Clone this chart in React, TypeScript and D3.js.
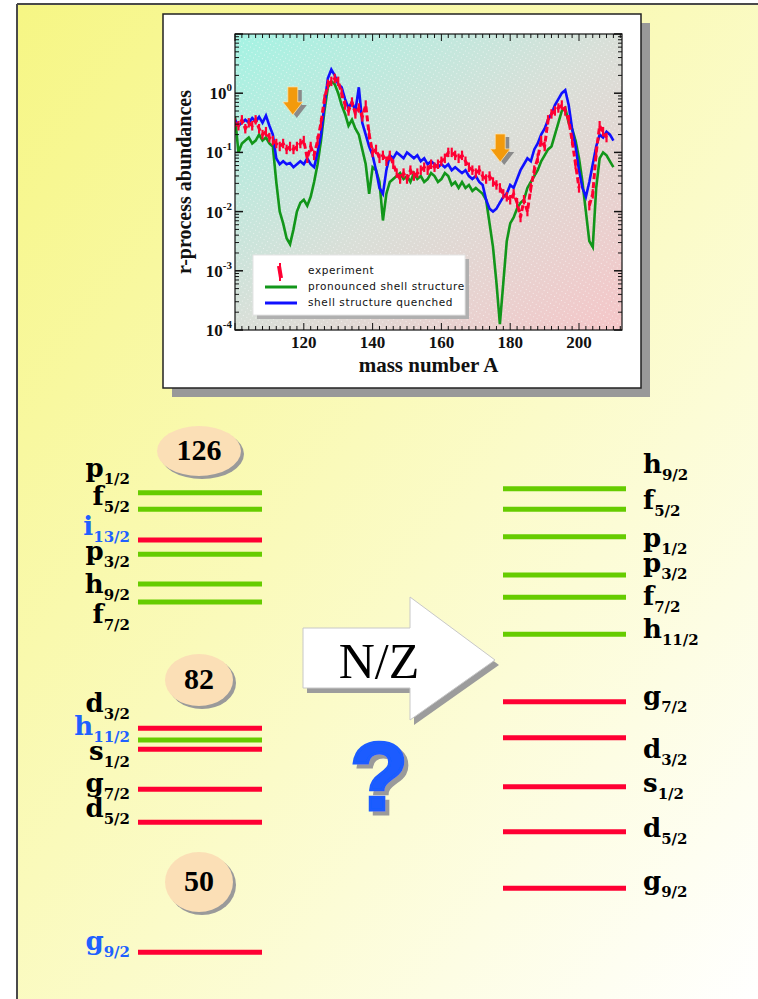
import React from 'react';
import * as d3 from 'd3';

// r-process abundances, log10 values, one per mass number starting at A = 100
const startA = 100;

const quenchedLog = [
  -0.45, -0.55, -0.5, -0.45, -0.5, -0.42, -0.48, -0.4, -0.5, -0.38,
  -0.55, -0.7, -1.1, -1.2, -1.15, -1.2, -1.18, -1.25, -1.2, -1.15,
  -1.2, -1.1, -1.2, -1.25, -1.0, -0.7, -0.2, 0.25, 0.4, 0.3,
  0.15, 0.1, -0.1, -0.25, -0.15, -0.3, 0.1, -0.5, -0.7, -0.9,
  -1.05, -1.3, -1.6, -1.7, -1.3, -1.05, -1.1, -1.0, -1.05, -1.1,
  -1.0, -1.05, -1.1, -1.05, -1.15, -1.1, -1.2, -1.15, -1.2, -1.25,
  -1.2, -1.25, -1.2, -1.3, -1.25, -1.3, -1.35, -1.3, -1.4, -1.45,
  -1.4, -1.5, -1.55, -1.8, -1.95, -2.0, -1.95, -1.85, -1.75, -1.7,
  -1.55, -1.6, -1.45, -1.3, -1.2, -1.1, -1.15, -0.95, -0.85, -0.7,
  -0.6, -0.45, -0.35, -0.2, -0.1, 0.0, 0.05, -0.2, -0.6, -0.9,
  -1.3, -1.6, -1.75, -1.5, -1.2, -0.9, -0.7, -0.75, -0.65, -0.7, -0.8,
];

const pronouncedLog = [
  -0.4, -1.0, -0.85, -0.8, -0.75, -0.85, -0.8, -0.7, -0.8, -0.75,
  -0.85, -0.9, -1.5, -2.0, -2.2, -2.45, -2.55, -2.3, -2.0, -1.85,
  -1.8, -1.9, -1.75, -1.5, -1.2, -0.8, -0.3, 0.1, 0.2, 0.15,
  0.0, -0.2, -0.35, -0.55, -0.45, -0.6, -0.7, -0.95, -1.2, -1.7,
  -1.25, -1.3, -1.5, -2.15, -1.7, -1.5, -1.45, -1.4, -1.35, -1.45,
  -1.4, -1.5, -1.35, -1.45, -1.4, -1.5, -1.45, -1.35, -1.4, -1.5,
  -1.45, -1.35, -1.4, -1.55, -1.5, -1.6, -1.5, -1.6, -1.55, -1.65,
  -1.6, -1.65, -1.7, -1.8, -2.2, -2.6, -3.2, -3.9, -3.2, -2.5,
  -2.2, -2.1, -1.95, -1.85, -1.8, -1.6, -1.5, -1.4, -1.3, -1.15,
  -1.05, -0.95, -0.9, -0.7, -0.5, -0.3, -0.25, -0.5, -0.6, -0.8,
  -1.1, -1.5, -2.0, -2.5, -2.6, -1.6, -1.1, -1.0, -1.05, -1.15, -1.25,
];

const experimentLog: (number | null)[] = [
  -0.5, -0.55, -0.45, -0.6, -0.5, -0.55, -0.45, -0.6, -0.7, -0.65,
  -0.75, -0.8, -0.85, -0.9, -0.85, -0.95, -0.9, -0.95, -0.9, -0.85,
  -0.8, -1.1, -0.9, -1.05, -0.8, -0.5, -0.1, 0.15, 0.2, 0.25,
  0.2, 0.0, -0.2, -0.3, -0.15, -0.35, -0.25, -0.4, -0.2, -0.7,
  -1.0, -0.95, -1.1, -1.05, -1.15, -1.05, -1.2, -1.35, -1.45, -1.35,
  -1.45, -1.3, -1.4, -1.35, -1.3, -1.25, -1.3, -1.2, -1.25, -1.2,
  -1.15, -1.1, -1.0, -1.0, -1.05, -1.1, -1.05, -1.15, -1.25, -1.3,
  -1.35, -1.3, -1.4, -1.45, -1.4, -1.5, -1.55, -1.6, -1.7, -1.75,
  -1.8, -1.7, -1.85, -2.1, -1.8, -2.0, -1.6, -1.3, -1.1, -0.8,
  -0.9, -0.45, -0.35, -0.3, -0.25, -0.2, -0.3, -0.45, -0.8, -1.2,
  -1.6, null, null, -1.9, -1.7, -1.0, -0.55, -0.65, -0.75,
];

const xTicks = [120, 140, 160, 180, 200];
const decades = [-4, -3, -2, -1, 0];

// orange arrows marking the shell-closure troughs: [A, abundance at arrow tip]
const troughMarks = [
  [116.8, 0.43],
  [177.1, 0.069],
];

const legendItems = ['experiment', 'pronounced shell structure', 'shell structure quenched'];

// single-particle levels, energies in arbitrary units
type Level = { l: string; j: string; e: number; parity: '+' | '-'; intruder?: boolean };

const leftLevels: Level[] = [
  { l: 'p', j: '1/2', e: 46.73, parity: '-' },
  { l: 'f', j: '5/2', e: 45.07, parity: '-' },
  { l: 'i', j: '13/2', e: 42.0, parity: '+', intruder: true },
  { l: 'p', j: '3/2', e: 40.57, parity: '-' },
  { l: 'h', j: '9/2', e: 37.6, parity: '-' },
  { l: 'f', j: '7/2', e: 35.8, parity: '-' },
  { l: 'd', j: '3/2', e: 23.17, parity: '+' },
  { l: 'h', j: '11/2', e: 22.0, parity: '-', intruder: true },
  { l: 's', j: '1/2', e: 21.07, parity: '+' },
  { l: 'g', j: '7/2', e: 17.07, parity: '+' },
  { l: 'd', j: '5/2', e: 13.77, parity: '+' },
  { l: 'g', j: '9/2', e: 0.77, parity: '+', intruder: true },
];

const rightLevels: Level[] = [
  { l: 'h', j: '9/2', e: 47.13, parity: '-' },
  { l: 'f', j: '5/2', e: 45.07, parity: '-' },
  { l: 'p', j: '1/2', e: 42.33, parity: '-' },
  { l: 'p', j: '3/2', e: 38.5, parity: '-' },
  { l: 'f', j: '7/2', e: 36.27, parity: '-' },
  { l: 'h', j: '11/2', e: 32.57, parity: '-' },
  { l: 'g', j: '7/2', e: 25.83, parity: '+' },
  { l: 'd', j: '3/2', e: 22.23, parity: '+' },
  { l: 's', j: '1/2', e: 17.33, parity: '+' },
  { l: 'd', j: '5/2', e: 12.83, parity: '+' },
  { l: 'g', j: '9/2', e: 7.17, parity: '+' },
];

const magicNumbers = [126, 82, 50];
const magicEnergies = [50.9, 28.0, 7.8];

// label placement (pixel offsets of label baseline from the level line)
const leftLabelShift = [-16, -4, -5, 6, 9, 21, -16, -5, 11, 3, -5, -2];
const rightLabelShift = [-16, 0, 10, -3, 8, 4, 3, 20, 5, 5, 2];
const magicRadii = [[42, 25], [34, 26], [34, 30]];

const GREEN = '#66cc00';
const RED = '#ff0033';
const BLUE_LBL = '#2060ff';
const SERIF_B = '"DejaVu Serif", serif';
const AX_FONT = '"Liberation Serif", "Times New Roman", serif';

function LevelLabel({ lv, x, y, anchor }: { lv: Level; x: number; y: number; anchor: 'start' | 'end' }) {
  return (
    <text x={x} y={y} textAnchor={anchor} fontFamily={SERIF_B} fontWeight="bold"
      fill={lv.intruder ? BLUE_LBL : '#000'}>
      <tspan fontSize={26}>{lv.l}</tspan>
      <tspan fontSize={15} dy={7}>{lv.j}</tspan>
    </text>
  );
}

export default function App() {
  // inset plot scales
  const x = d3.scaleLinear().domain([100, 212.5]).range([235, 622]);
  const y = d3.scaleLog().domain([1e-4, 10]).range([330, 34]);
  const [px0, px1] = x.range();
  const [py1, py0] = y.range();

  const toPts = (arr: (number | null)[]) =>
    arr.map((v, i) => [startA + i, v] as [number, number | null]);
  const line = d3.line<[number, number | null]>()
    .defined(d => d[1] !== null)
    .x(d => x(d[0]))
    .y(d => y(Math.pow(10, d[1] as number)));

  const minorX = d3.range(100, 213, 2);
  const minorY: number[] = [];
  decades.forEach(e => d3.range(2, 10).forEach(m => minorY.push(m * Math.pow(10, e))));

  // level scheme scale
  const yE = d3.scaleLinear().domain([0, 50]).range([960, 460]);
  const leftX = [138, 262];
  const rightX = [503, 626];

  const arrowPath = (cx: number, tipY: number) =>
    `M${cx - 5},${tipY - 28} L${cx + 5},${tipY - 28} L${cx + 5},${tipY - 13} L${cx + 10},${tipY - 13} L${cx},${tipY} L${cx - 10},${tipY - 13} L${cx - 5},${tipY - 13} Z`;

  const expPts = toPts(experimentLog).filter(d => d[1] !== null);

  return (
    <svg width={758} height={999} style={{ position: 'absolute', left: 0, top: 0, background: '#fff' }}>
      <defs>
        <linearGradient id="panelBg" x1="0" y1="0" x2="1" y2="1">
          <stop offset="0" stopColor="#f6f684" />
          <stop offset="0.45" stopColor="#fafabb" />
          <stop offset="1" stopColor="#ffffff" />
        </linearGradient>
        <linearGradient id="plotBg" x1="0" y1="0" x2="1" y2="1">
          <stop offset="0" stopColor="#a4f3e3" />
          <stop offset="0.5" stopColor="#d9dfd8" />
          <stop offset="1" stopColor="#f5c6c8" />
        </linearGradient>
        <pattern id="dots" width="4" height="4" patternUnits="userSpaceOnUse" patternTransform="rotate(-60)">
          <rect x="0" y="0" width="1" height="1" fill="#fff" opacity="0.55" />
        </pattern>
        <clipPath id="plotClip">
          <rect x={px0} y={py0} width={px1 - px0} height={py1 - py0} />
        </clipPath>
        <filter id="qShadow" x="-20%" y="-20%" width="150%" height="150%">
          <feDropShadow dx="4" dy="4" stdDeviation="0.6" floodColor="#9a9a9a" floodOpacity="1" />
        </filter>
      </defs>

      {/* slide panel */}
      <rect x={17} y={5} width={741} height={994} fill="url(#panelBg)" />
      <line x1={17} y1={4} x2={758} y2={4} stroke="#4a4a4a" strokeWidth={2} />
      <line x1={17} y1={4} x2={17} y2={999} stroke="#4a4a4a" strokeWidth={2} />

      {/* inset chart box */}
      <rect x={172} y={23} width={478} height={374} fill="#999" />
      <rect x={163} y={14} width={478} height={374} fill="#fff" stroke="#222" strokeWidth={1.5} />

      <rect x={px0} y={py0} width={px1 - px0} height={py1 - py0} fill="url(#plotBg)" />
      <rect x={px0} y={py0} width={px1 - px0} height={py1 - py0} fill="url(#dots)" />

      <g clipPath="url(#plotClip)" fill="none" strokeLinejoin="miter">
        <path d={line(toPts(pronouncedLog)) || ''} stroke="#12961a" strokeWidth={2.6} />
        <path d={line(toPts(quenchedLog)) || ''} stroke="#1010ff" strokeWidth={2.6} />
        <path d={line(toPts(experimentLog)) || ''} stroke={RED} strokeWidth={3} strokeDasharray="6 3" />
        {expPts.map(d => (
          <line key={d[0]} x1={x(d[0])} x2={x(d[0])}
            y1={y(Math.pow(10, (d[1] as number) + 0.08))} y2={y(Math.pow(10, (d[1] as number) - 0.08))}
            stroke={RED} strokeWidth={2.2} />
        ))}
      </g>

      {/* trough arrows */}
      {troughMarks.map(([a, v], i) => (
        <g key={i}>
          <path d={arrowPath(x(a) + 4, y(v) + 3)} fill="#8a8a8a" />
          <path d={arrowPath(x(a), y(v))} fill="#f39a0c" stroke="#fde3b0" strokeWidth={0.8} />
        </g>
      ))}

      {/* frame + ticks */}
      <rect x={px0} y={py0} width={px1 - px0} height={py1 - py0} fill="none" stroke="#111" strokeWidth={1.2} />
      <g stroke="#111" strokeWidth={1}>
        {minorX.map(a => {
          const len = a % 20 === 0 ? 7 : 4;
          return (
            <g key={'x' + a}>
              <line x1={x(a)} x2={x(a)} y1={py1} y2={py1 - len} />
              <line x1={x(a)} x2={x(a)} y1={py0} y2={py0 + len} />
            </g>
          );
        })}
        {decades.concat([1]).map(e => (
          <g key={'d' + e}>
            <line x1={px0} x2={px0 + 8} y1={y(Math.pow(10, e))} y2={y(Math.pow(10, e))} strokeWidth={1.5} />
            <line x1={px1} x2={px1 - 8} y1={y(Math.pow(10, e))} y2={y(Math.pow(10, e))} strokeWidth={1.5} />
          </g>
        ))}
        {minorY.map((v, i) => (
          <g key={'m' + i}>
            <line x1={px0} x2={px0 + 4} y1={y(v)} y2={y(v)} />
            <line x1={px1} x2={px1 - 4} y1={y(v)} y2={y(v)} />
          </g>
        ))}
      </g>

      {/* axis labels */}
      <g fontFamily={AX_FONT} fontWeight="bold" fill="#111">
        {xTicks.map(t => (
          <text key={t} x={x(t)} y={348} textAnchor="middle" fontSize={17}>{t}</text>
        ))}
        {decades.map(e => (
          <text key={e} x={232} y={y(Math.pow(10, e)) + 6} textAnchor="end" fontSize={17}>
            10<tspan fontSize={11} dy={-8}>{e}</tspan>
          </text>
        ))}
        <text x={(px0 + px1) / 2} y={372} textAnchor="middle" fontSize={21}>mass number A</text>
        <text transform={`translate(191,${(py0 + py1) / 2}) rotate(-90)`} textAnchor="middle" fontSize={20}>
          r-process abundances
        </text>
      </g>

      {/* legend */}
      <rect x={257} y={259} width={212} height={60} fill="#b0b0b0" />
      <rect x={253} y={255} width={212} height={60} fill="#fff" stroke="#e4e4e4" />
      <line x1={280} x2={280} y1={263} y2={281} stroke={RED} strokeWidth={2} />
      <line x1={279} x2={281} y1={266} y2={278} stroke={RED} strokeWidth={4} />
      <line x1={265} x2={297} y1={287} y2={287} stroke="#12961a" strokeWidth={3} />
      <line x1={265} x2={297} y1={303} y2={303} stroke="#1010ff" strokeWidth={3} />
      <g fontFamily='"DejaVu Sans", sans-serif' fontSize={10.5} fill="#111" letterSpacing={0.6}>
        {legendItems.map((t, i) => (
          <text key={t} x={308} y={274 + i * 16}>{t}</text>
        ))}
      </g>

      {/* level scheme: left */}
      {leftLevels.map((lv, i) => (
        <g key={'L' + i}>
          <line x1={leftX[0]} x2={leftX[1]} y1={yE(lv.e)} y2={yE(lv.e)}
            stroke={lv.parity === '+' ? RED : GREEN} strokeWidth={5} />
          <LevelLabel lv={lv} x={130} y={yE(lv.e) + leftLabelShift[i]} anchor="end" />
        </g>
      ))}

      {/* magic numbers */}
      {magicNumbers.map((n, i) => {
        const cy = yE(magicEnergies[i]);
        const [rx, ry] = magicRadii[i];
        return (
          <g key={n}>
            <ellipse cx={202} cy={cy + 3} rx={rx} ry={ry} fill="#9a9a9a" />
            <ellipse cx={199} cy={cy} rx={rx} ry={ry} fill="#fbdfb6" />
            <text x={199} y={cy + 9} textAnchor="middle" fontFamily={AX_FONT} fontWeight="bold" fontSize={30}>
              {n}
            </text>
          </g>
        );
      })}

      {/* N/Z arrow */}
      <polygon points="307,633 414,633 414,602 499,665 414,725 414,693 307,693" fill="#9c9c9c" />
      <polygon points="303,628 410,628 410,597 495,660 410,720 410,688 303,688" fill="#fff" stroke="#c8c8c8" />
      <text x={379} y={678} textAnchor="middle" fontFamily={AX_FONT} fontSize={50}>N/Z</text>

      <text x={379} y={810} textAnchor="middle" fontFamily='"Liberation Sans", Arial, sans-serif' fontWeight="bold"
        fontSize={96} fill="#1a5cff" stroke="#1a5cff" strokeWidth={3} filter="url(#qShadow)">?</text>

      {/* level scheme: right */}
      {rightLevels.map((lv, i) => (
        <g key={'R' + i}>
          <line x1={rightX[0]} x2={rightX[1]} y1={yE(lv.e)} y2={yE(lv.e)}
            stroke={lv.parity === '+' ? RED : GREEN} strokeWidth={5} />
          <LevelLabel lv={lv} x={643} y={yE(lv.e) + rightLabelShift[i]} anchor="start" />
        </g>
      ))}
    </svg>
  );
}
